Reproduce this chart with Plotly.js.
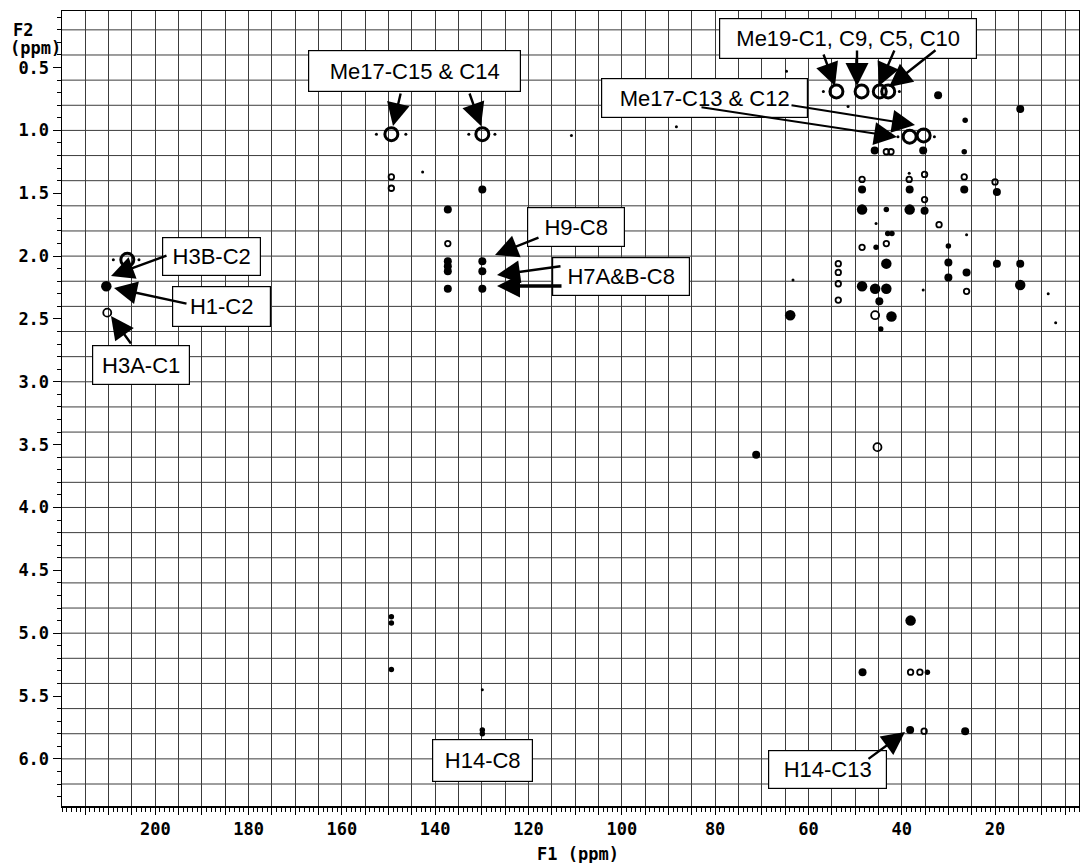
<!DOCTYPE html>
<html>
<head>
<meta charset="utf-8">
<script src="https://cdn.plot.ly/plotly-3.0.1.min.js"></script>
<style>html,body{margin:0;padding:0;background:#fff;}#chart{width:1080px;height:863px;}</style>
</head>
<body>
<div id="chart"></div>
<script>
// ---------------- DATA (ppm) ----------------
// strong methyl correlations (large open contours)
const strongF1 = [149.4, 129.9, 54.0, 48.6, 44.7, 42.9, 38.3, 35.3, 206.0];
const strongF2 = [1.03, 1.03, 0.69, 0.69, 0.69, 0.69, 1.05, 1.04, 2.03];

// filled contours with intensity level 1..3
const filledF1 = [210.5, 137.3, 137.3, 137.3, 137.3, 137.3, 129.9, 129.9, 129.9, 129.9, 129.9, 129.9,
  149.4, 149.4, 149.4, 63.9, 71.2, 38.1, 48.4, 38.2, 26.4, 34.5, 14.6, 32.2, 26.4,
  45.8, 35.4, 26.6, 48.5, 38.3, 26.6, 19.6, 48.5, 43.3, 38.3, 35.1, 43.0, 42.1, 45.5,
  30.0, 30.0, 30.0, 43.3, 19.6, 14.6, 26.1, 48.5, 45.7, 43.3, 14.6, 44.8, 42.2, 44.5];
const filledF2 = [2.24, 1.63, 2.04, 2.08, 2.12, 2.26, 1.47, 2.04, 2.12, 2.26, 5.77, 5.80,
  4.87, 4.92, 5.29, 2.47, 3.58, 4.90, 5.31, 5.77, 5.78, 5.31, 0.83, 0.72, 0.92,
  1.16, 1.16, 1.17, 1.47, 1.47, 1.47, 1.49, 1.63, 1.63, 1.63, 1.64, 1.82, 1.82, 1.93,
  1.92, 2.05, 2.17, 2.06, 2.06, 2.06, 2.13, 2.24, 2.26, 2.26, 2.23, 2.36, 2.48, 2.58];
const filledLevel = [3, 2, 2, 2, 2, 2, 2, 2, 2, 2, 1, 1,
  1, 1, 1, 3, 2, 3, 2, 2, 2, 1, 2, 2, 1,
  2, 2, 1, 2, 2, 2, 2, 3, 1, 3, 2, 1, 1, 1,
  1, 2, 2, 3, 2, 2, 2, 3, 3, 3, 3, 2, 3, 1];

// small open contours with level 1..2
const openF1 = [210.3, 45.2, 38.1, 36.1, 35.2, 149.4, 149.4, 137.3, 43.3, 42.3, 35.1,
  48.5, 38.4, 26.6, 20.0, 35.1, 32.0, 48.5, 43.3, 53.6, 53.6, 53.6, 53.6, 26.1, 45.7];
const openF2 = [2.45, 3.52, 5.31, 5.31, 5.78, 1.37, 1.46, 1.90, 1.17, 1.17, 1.35,
  1.39, 1.39, 1.37, 1.41, 1.55, 1.75, 1.93, 1.90, 2.06, 2.13, 2.22, 2.35, 2.28, 2.47];
const openLevel = [2, 2, 1, 1, 1, 1, 1, 1, 1, 1, 1,
  1, 1, 1, 1, 1, 1, 1, 1, 1, 1, 1, 1, 1, 2];

// weak specks / t1 tails
const speckF1 = [110.8, 88.3, 64.7, 51.5, 142.7, 63.3, 35.4, 8.6, 7.0, 129.9, 38.4, 45.5, 26.1,
  152.6, 146.3, 132.8, 127.2, 56.8, 40.5, 40.8, 33.0, 209.0, 203.5];
const speckF2 = [1.04, 0.97, 0.53, 0.81, 1.33, 2.19, 2.27, 2.30, 2.53, 5.45, 1.34, 1.74, 1.83,
  1.03, 1.03, 1.03, 1.03, 0.69, 0.69, 1.05, 1.05, 2.03, 2.03];

// axis tick labels
const xLabelVals = [200, 180, 160, 140, 120, 100, 80, 60, 40, 20];
const yLabelVals = [0.5, 1.0, 1.5, 2.0, 2.5, 3.0, 3.5, 4.0, 4.5, 5.0, 5.5, 6.0];

// annotation labels
const labels = ["Me17-C15 & C14", "Me19-C1, C9, C5, C10", "Me17-C13 & C12", "H3B-C2", "H1-C2",
  "H3A-C1", "H9-C8", "H7A&B-C8", "H14-C8", "H14-C13"];

// ---------------- LAYOUT GEOMETRY ----------------
const X0 = 220, X1 = 2, Y0 = 0.05, Y1 = 6.375;
const ML = 62, MR = 1, MT = 11, MB = 57, W = 1080, H = 863;
const PW = W - ML - MR, PH = H - MT - MB;
const px2x = p => X0 - (p - ML) / PW * (X0 - X1);
const py2y = p => Y0 + (p - MT) / PH * (Y1 - Y0);

// grid values
const xGrid = []; for (let v = 5; v <= 215; v += 5) xGrid.push(v);
const yGrid = []; for (let k = 1; k <= 31; k++) yGrid.push(k / 5);

const gridColor = '#3c3c3c';
const tickFont = {family: 'DejaVu Sans Mono', size: 17, color: '#000', weight: 'bold'};

const traces = [
  {type: 'scatter', mode: 'markers', x: speckF1, y: speckF2, hoverinfo: 'skip',
   marker: {symbol: 'circle', size: 3, color: '#000', opacity: 1}},
  {type: 'scatter', mode: 'markers', x: filledF1, y: filledF2, hoverinfo: 'x+y',
   marker: {symbol: 'circle', size: filledLevel.map(l => 3 + 2.5 * l), color: '#000', opacity: 1, line: {width: 0}}},
  {type: 'scatter', mode: 'markers', x: openF1, y: openF2, hoverinfo: 'x+y',
   marker: {symbol: 'circle-open', size: openLevel.map(l => 3 + 2.5 * l), color: '#000', opacity: 1, line: {width: 1.8}}},
  {type: 'scatter', mode: 'markers', x: strongF1, y: strongF2, hoverinfo: 'x+y',
   marker: {symbol: 'circle-open', size: 13, color: '#000', opacity: 1, line: {width: 3}}}
];

const shapes = yGrid.map(v => ({type: 'line', xref: 'paper', x0: 0, x1: 1, yref: 'y', y0: v, y1: v,
  layer: 'below', line: {color: gridColor, width: 1}}));

// box annotations: centre and size in pixels
const boxes = [
  [414.5, 71, 213, 42], [848, 38.5, 258, 41], [704.5, 98, 207, 40], [211.5, 256.5, 99, 39],
  [221.5, 306.5, 99, 41], [141, 365, 98, 40], [576, 227, 98, 40], [621, 276.5, 138, 39],
  [482.5, 760, 101, 43], [827.5, 769.5, 119, 39]
];
const annotations = boxes.map((b, i) => ({
  xref: 'x', yref: 'y', x: px2x(b[0]), y: py2y(b[1]), text: labels[i], showarrow: false,
  width: b[2] - 2, height: b[3] - 2, borderpad: 0, bordercolor: '#000', borderwidth: 1.2,
  bgcolor: '#fff', align: 'center', valign: 'middle',
  font: {family: 'Liberation Sans, Arial, sans-serif', size: 22, color: '#000'}
}));

// arrows: tail -> tip in pixels, line width
const arrows = [
  [401, 92, 393, 126, 2.4], [469, 92, 481, 126, 2.4],
  [823, 53, 835, 86, 2.4], [857, 49, 857, 86, 2.4], [895, 49, 879, 86, 2.4], [937, 49, 889, 87, 2.4],
  [700, 107, 897, 137, 2], [790, 105, 915, 125, 2],
  [168, 255, 111, 276, 2.4], [188, 304, 114, 288, 2.4], [132, 345, 111, 316, 2.4],
  [540, 237, 495, 255, 2.4], [562, 266, 497, 275, 2.4], [563, 286, 497, 286, 3.4],
  [867, 760, 905, 732, 2.4]
];
arrows.forEach(a => annotations.push({
  xref: 'x', yref: 'y', axref: 'x', ayref: 'y',
  x: px2x(a[2]), y: py2y(a[3]), ax: px2x(a[0]), ay: py2y(a[1]),
  text: '', showarrow: true, arrowhead: 2, arrowsize: 4.6 / a[4], arrowwidth: a[4], arrowcolor: '#000'
}));

// axis titles
annotations.push({xref: 'paper', yref: 'paper', x: (577.5 - ML) / PW, y: (H - MB - 854) / PH,
  text: 'F1 (ppm)', showarrow: false, xanchor: 'center', yanchor: 'middle', font: tickFont});
annotations.push({xref: 'paper', yref: 'paper', x: (11 - ML) / PW, y: (H - MB - 30) / PH,
  text: 'F2', showarrow: false, xanchor: 'left', yanchor: 'middle', font: tickFont});
annotations.push({xref: 'paper', yref: 'paper', x: (8 - ML) / PW, y: (H - MB - 48) / PH,
  text: '(ppm)', showarrow: false, xanchor: 'left', yanchor: 'middle', font: tickFont});

const layout = {
  width: W, height: H, margin: {l: ML, r: MR, t: MT, b: MB, pad: 0},
  paper_bgcolor: '#fff', plot_bgcolor: '#fff', showlegend: false,
  xaxis: {
    range: [X0, X1], autorange: false, tickmode: 'array', tickvals: xGrid,
    ticktext: xGrid.map(v => xLabelVals.includes(v) ? String(v) : ''),
    ticks: 'outside', ticklen: 7, tickwidth: 1, tickcolor: '#000',
    showgrid: true, gridcolor: gridColor, gridwidth: 1, zeroline: false,
    showline: true, linecolor: '#000', linewidth: 1.5, mirror: true,
    tickfont: tickFont,
    minor: {tick0: 0, dtick: 1, ticks: 'outside', ticklen: 4, tickcolor: '#000', showgrid: false}
  },
  yaxis: {
    range: [Y1, Y0], autorange: false, tickmode: 'array', tickvals: yLabelVals,
    ticktext: yLabelVals.map(v => v.toFixed(1)),
    ticks: 'outside', ticklen: 8, tickwidth: 1, tickcolor: '#000',
    showgrid: false, zeroline: false,
    showline: true, linecolor: '#000', linewidth: 1.5, mirror: true,
    tickfont: tickFont,
    minor: {tick0: 0, dtick: 0.1, ticks: 'outside', ticklen: 4, tickcolor: '#000', showgrid: false}
  },
  shapes: shapes,
  annotations: annotations
};

Plotly.newPlot('chart', traces, layout, {staticPlot: true, displayModeBar: false});
</script>
</body>
</html>
